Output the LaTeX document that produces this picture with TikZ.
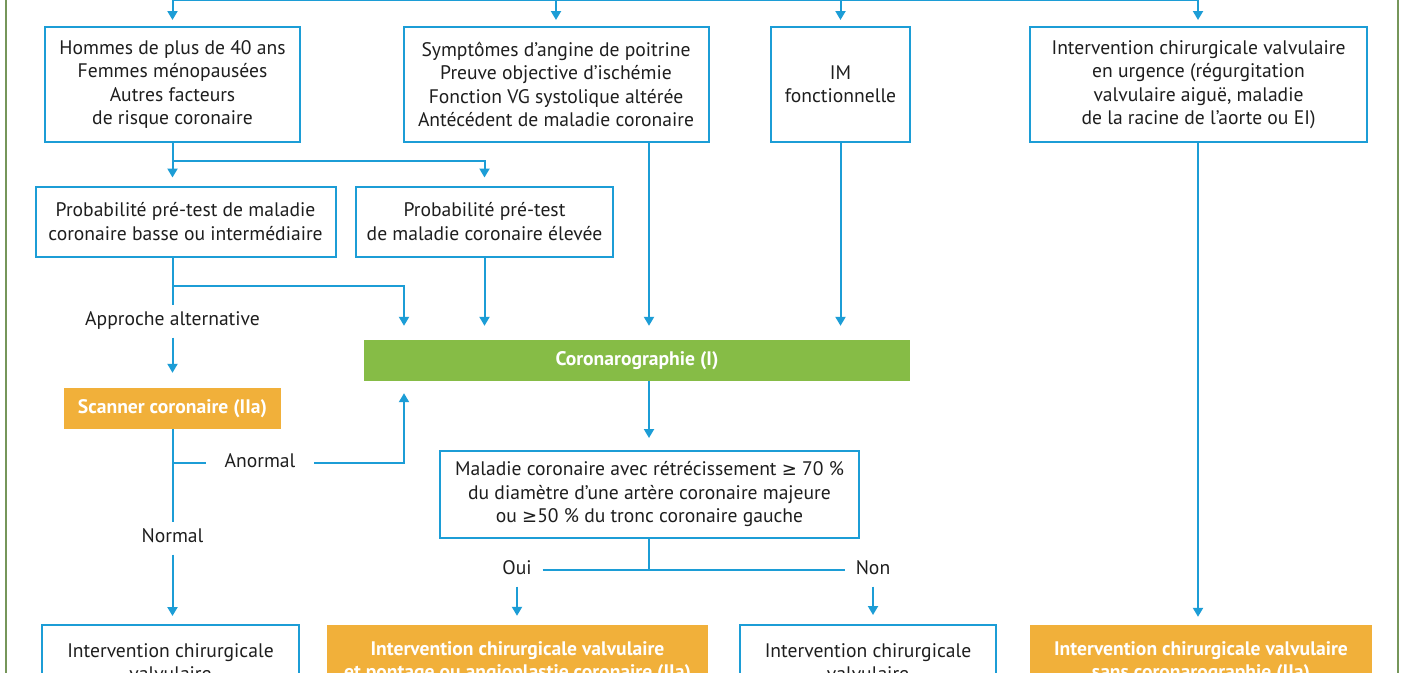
\documentclass[tikz,border=0pt]{standalone}
\usepackage{fontspec}
\setmainfont{PT Sans}
\newfontfamily\symf[Scale=0.92]{DejaVu Sans}
\newcommand{\gq}{{\symf ≥}}
\usetikzlibrary{arrows.meta}
\definecolor{cblue}{RGB}{28,157,214}
\definecolor{cgreen}{RGB}{134,188,70}
\definecolor{corange}{RGB}{241,176,58}
\definecolor{cborder}{RGB}{118,150,90}
\definecolor{txt}{RGB}{30,30,30}
\tikzset{
  ln/.style={draw=cblue, line width=2pt},
  arr/.style={ln, -{Triangle[width=10pt,length=9pt]}},
  bx/.style={draw=cblue, line width=2pt, fill=white, align=center, text=txt, inner sep=0pt,
    font=\fontsize{19.6}{23.5}\selectfont},
  fbx/.style={fill=#1, align=center, text=white, inner sep=0pt,
    font=\bfseries\fontsize{19.6}{23.5}\selectfont},
  lab/.style={inner sep=0pt, text height=13pt, text depth=4pt, outer ysep=8pt, text=txt,
    font=\fontsize{19.6}{23.5}\selectfont},
  bord/.style={draw=cborder, line width=2.5pt}
}
\begin{document}
\begin{tikzpicture}[x=1pt,y=-1pt]
\useasboundingbox (0,0) rectangle (1404,672);
\clip (0,0) rectangle (1404,672);
\fill[white] (0,0) rectangle (1404,672);
\draw[bord] (6,-10) -- (6,690);
\draw[bord] (1398,-10) -- (1398,690);

% top row
\node[bx, minimum width=255pt, minimum height=115pt] (b1) at (172.5,84.5)
  {Hommes de plus de 40 ans\\Femmes ménopausées\\Autres facteurs\\de risque coronaire};
\node[bx, minimum width=305pt, minimum height=115pt] (b2) at (556,84.5)
  {Symptômes d’angine de poitrine\\Preuve objective d’ischémie\\Fonction VG systolique altérée\\Antécédent de maladie coronaire};
\node[bx, minimum width=139pt, minimum height=115pt] (b3) at (840.5,84.5)
  {IM\\fonctionnelle};
\node[bx, minimum width=337pt, minimum height=115pt] (b4) at (1198.5,84.5)
  {Intervention chirurgicale valvulaire\\en urgence (régurgitation\\valvulaire aiguë, maladie\\de la racine de l’aorte ou EI)};

% probability row
\node[bx, minimum width=300pt, minimum height=70pt] (p5) at (185.5,221.5)
  {Probabilité pré-test de maladie\\coronaire basse ou intermédiaire};
\node[bx, minimum width=257pt, minimum height=70pt] (p6) at (484.5,221.5)
  {Probabilité pré-test\\de maladie coronaire élevée};

% middle
\node[fbx=cgreen, minimum width=546pt, minimum height=41pt] (cor) at (637,360.5) {Coronarographie (I)};
\node[fbx=corange, minimum width=217pt, minimum height=41pt] (sc) at (172.5,408.5) {Scanner coronaire (IIa)};
\node[bx, minimum width=419pt, minimum height=87pt] (m7) at (649.5,494.5)
  {Maladie coronaire avec rétrécissement \gq{} 70 \%\\du diamètre d’une artère coronaire majeure\\ou \gq50 \% du tronc coronaire gauche};

% bottom row (cut by the picture's lower edge, as in the reference)
\node[bx, minimum width=257pt, minimum height=74pt] (f8) at (170.5,662)
  {Intervention chirurgicale\\valvulaire};
\node[fbx=corange, minimum width=381pt, minimum height=74pt] (f9) at (517.5,662)
  {Intervention chirurgicale valvulaire\\et pontage ou angioplastie coronaire (IIa)};
\node[bx, minimum width=256pt, minimum height=74pt] (f10) at (868,662)
  {Intervention chirurgicale\\valvulaire};
\node[fbx=corange, minimum width=342pt, minimum height=74pt] (f11) at (1201,662)
  {Intervention chirurgicale valvulaire\\sans coronarographie (IIa)};

% labels
\node[lab] (aa) at (172.5,321) {Approche alternative};
\node[lab, outer xsep=19pt] (an) at (260,462.5) {Anormal};
\node[lab, outer ysep=8pt] (nn) at (172.5,538) {Normal};
\node[lab, outer xsep=11pt] (oui) at (517,570) {Oui};
\node[lab, outer xsep=11pt] (non) at (873,570) {Non};

% coordinates
\coordinate (t1) at (172.5,0);
\coordinate (t2) at (556,0);
\coordinate (t3) at (840.5,0);
\coordinate (t4) at (1198,0);
\coordinate (j1) at (172.5,160.5);
\coordinate (j2) at (172.5,285.5);
\coordinate (j3) at (172.5,462.5);
\coordinate (x404) at (404,0);
\coordinate (x649) at (649,0);
\coordinate (j4) at (649,570);

% connectors
\draw[ln] (t1) -- (t4);
\draw[arr, shorten >=6pt] (t1) -- (t1 |- b1.north);
\draw[arr, shorten >=6pt] (t2) -- (t2 |- b2.north);
\draw[arr, shorten >=6pt] (t3) -- (t3 |- b3.north);
\draw[arr, shorten >=6pt] (t4) -- (t4 |- b4.north);

\draw[arr, shorten >=8pt] (b1.south) -- (b1.south |- p5.north);
\draw[arr, shorten >=8pt] (j1) -| (p6.north);

\draw[ln] (p5.south -| aa) -- (aa.north);
\draw[arr, shorten >=15pt] (aa.south) -- (sc.north);
\draw[arr, shorten >=14pt] (j2) -| (x404 |- cor.north);
\draw[arr, shorten >=14pt] (p6.south) -- (p6.south |- cor.north);
\draw[arr, shorten >=14pt] (x649 |- b2.south) -- (x649 |- cor.north);
\draw[arr, shorten >=14pt] (b3.south) -- (b3.south |- cor.north);
\draw[arr, shorten >=8pt] (t4 |- b4.south) -- (t4 |- f11.north);

\draw[ln] (sc.south) -- (nn.north);
\draw[arr, shorten >=8pt] (nn.south) -- (nn.south |- f8.north);
\draw[ln] (j3) -- (an.west);
\draw[arr, shorten >=12pt] (an.east) -| (x404 |- cor.south);

\draw[arr, shorten >=12pt] (x649 |- cor.south) -- (x649 |- m7.north);
\draw[ln] (x649 |- m7.south) -- (j4);
\draw[ln] (oui.east) -- (non.west);
\draw[arr, shorten >=9pt] (oui.south) -- (oui.south |- f9.north);
\draw[arr, shorten >=9pt] (non.south) -- (non.south |- f10.north);
\end{tikzpicture}
\end{document}
